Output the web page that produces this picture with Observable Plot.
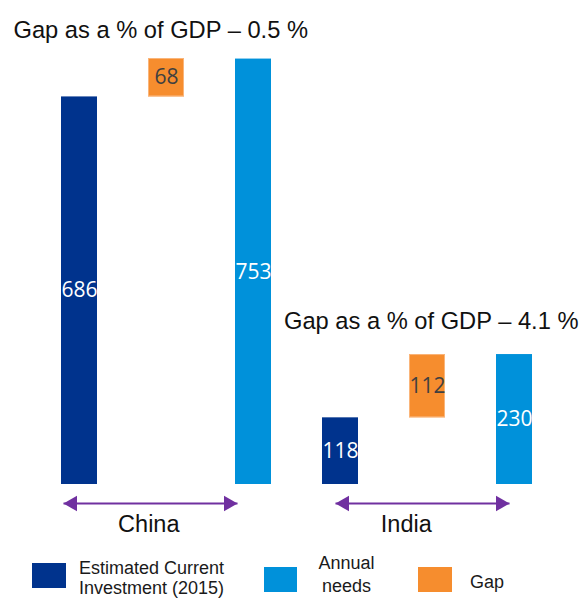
<!DOCTYPE html>
<html><head><meta charset="utf-8">
<script src="https://cdn.jsdelivr.net/npm/d3@7"></script>
<script src="https://cdn.jsdelivr.net/npm/@observablehq/plot@0.6"></script>
<style>
html,body{margin:0;padding:0;background:#fff;}
#chart svg{display:block;overflow:visible}
.legend{position:relative;width:585px;height:53px;font-family:"Liberation Sans",Arial,sans-serif;font-size:18px;color:#1a1a1a;}
.legend .sw{position:absolute;height:25px}
.legend .lb{position:absolute;white-space:nowrap}
</style></head><body>
<div id="chart"></div>
<script>
// ---- data ----
const countries = ["China", "India"];
const investment = [686, 118];
const annualNeeds = [753, 230];
const gap = [68, 112];
const gapPctGdp = ["0.5", "4.1"];
const seriesKeys = ["investment", "gap", "needs"];
const seriesLabels = [["Estimated Current", "Investment (2015)"], ["Gap"], ["Annual", "needs"]];
const seriesColors = ["#00338D", "#F68D2E", "#0091DA"];

// ---- tables built from the arrays ----
const rows = [];
const groups = [];
countries.forEach((c, i) => {
  rows.push({country: c, series: "investment", key: c + " investment", y1: 0, y2: investment[i], label: String(investment[i])});
  rows.push({country: c, series: "gap", key: c + " gap", y1: investment[i], y2: investment[i] + gap[i], label: String(gap[i])});
  rows.push({country: c, series: "needs", key: c + " needs", y1: 0, y2: annualNeeds[i], label: String(annualNeeds[i])});
  groups.push({country: c, from: c + " investment", mid: c + " gap", to: c + " needs",
    top: Math.max(annualNeeds[i], investment[i] + gap[i]),
    title: "Gap as a % of GDP \u2013 " + gapPctGdp[i] + " %"});
});

// ---- layout (styling offsets per group) ----
const layout = {
  China: {arrowDx: -16, labelDx: -17.7, titleDx: -66, titleDy: -21},
  India: {arrowDx: -5, labelDx: -21.2, titleDx: -56.5, titleDy: -26}
};
const purple = "#7030A0";

const marks = [
  Plot.barY(rows, {x: "key", y1: "y1", y2: "y2", fill: "series"}),
  Plot.barY(rows.filter(d => d.series === "gap"), {x: "key", y1: "y1", y2: "y2", fill: "none", stroke: "#FAB57A", strokeWidth: 1, inset: 0.5}),
  Plot.text(rows.filter(d => d.series !== "gap"), {x: "key", y: d => (d.y1 + d.y2) / 2, text: "label", fill: "#ffffff", fontFamily: "Open Sans, Noto Sans, sans-serif", fontSize: 21}),
  Plot.text(rows.filter(d => d.series === "gap"), {x: "key", y: d => (d.y1 + d.y2) / 2, text: "label", fill: "#404040", fontFamily: "Open Sans, Noto Sans, sans-serif", fontSize: 21})
];
groups.forEach(g => {
  const L = layout[g.country];
  const d = [g];
  marks.push(Plot.link(d, {x1: "from", x2: "to", y1: 0, y2: 0, dy: 19, dx: L.arrowDx, stroke: purple, strokeWidth: 2}));
  marks.push(Plot.dot(d, {x: "from", y: 0, dy: 19, dx: L.arrowDx + 9, symbol: "triangle", r: 5.8, rotate: -90, fill: purple, stroke: "none"}));
  marks.push(Plot.dot(d, {x: "to", y: 0, dy: 19, dx: L.arrowDx - 9, symbol: "triangle", r: 5.8, rotate: 90, fill: purple, stroke: "none"}));
  marks.push(Plot.text(d, {x: "mid", y: 0, dy: 47, dx: L.labelDx, text: "country", lineAnchor: "bottom", fontSize: 23.5, fill: "#111"}));
  marks.push(Plot.text(d, {x: "from", y: "top", dy: L.titleDy, dx: L.titleDx, text: "title", textAnchor: "start", lineAnchor: "bottom", fontSize: 23.7, fill: "#111"}));
});

const chart = Plot.plot({
  width: 585,
  height: 545,
  marginTop: 58,
  marginBottom: 61,
  marginLeft: 15,
  marginRight: 7,
  style: {fontFamily: "Liberation Sans, Arial, sans-serif", background: "#fff", overflow: "visible"},
  x: {domain: rows.map(d => d.key), paddingInner: 0.59, paddingOuter: 0.5, axis: null},
  y: {domain: [0, d3.max(groups, g => g.top)], axis: null},
  color: {domain: seriesKeys, range: seriesColors},
  marks
});
document.getElementById("chart").appendChild(chart);

// ---- legend (HTML, below the SVG) ----
// legend order: investment, needs, gap
const legendOrder = ["investment", "needs", "gap"];
const legendLayout = {
  investment: {sw: [32, 18, 34], lb: [79, 13, 20, "left"]},
  needs: {sw: [264, 22, 33], lb: [306.5, 6.6, 23, "center"]},
  gap: {sw: [418, 22, 34], lb: [470, 25.6, 23, "left"]}
};
const legend = document.createElement("div");
legend.className = "legend";
legendOrder.forEach(k => {
  const i = seriesKeys.indexOf(k);
  const L = legendLayout[k];
  const sw = document.createElement("div");
  sw.className = "sw";
  sw.style.left = L.sw[0] + "px"; sw.style.top = L.sw[1] + "px"; sw.style.width = L.sw[2] + "px";
  sw.style.background = seriesColors[i];
  const lb = document.createElement("div");
  lb.className = "lb";
  lb.style.left = L.lb[0] + "px"; lb.style.top = L.lb[1] + "px"; lb.style.lineHeight = L.lb[2] + "px";
  lb.style.textAlign = L.lb[3];
  if (L.lb[3] === "center") lb.style.width = "80px";
  lb.innerHTML = seriesLabels[i].join("<br>");
  legend.appendChild(sw); legend.appendChild(lb);
});
document.body.appendChild(legend);
</script>
</body></html>
